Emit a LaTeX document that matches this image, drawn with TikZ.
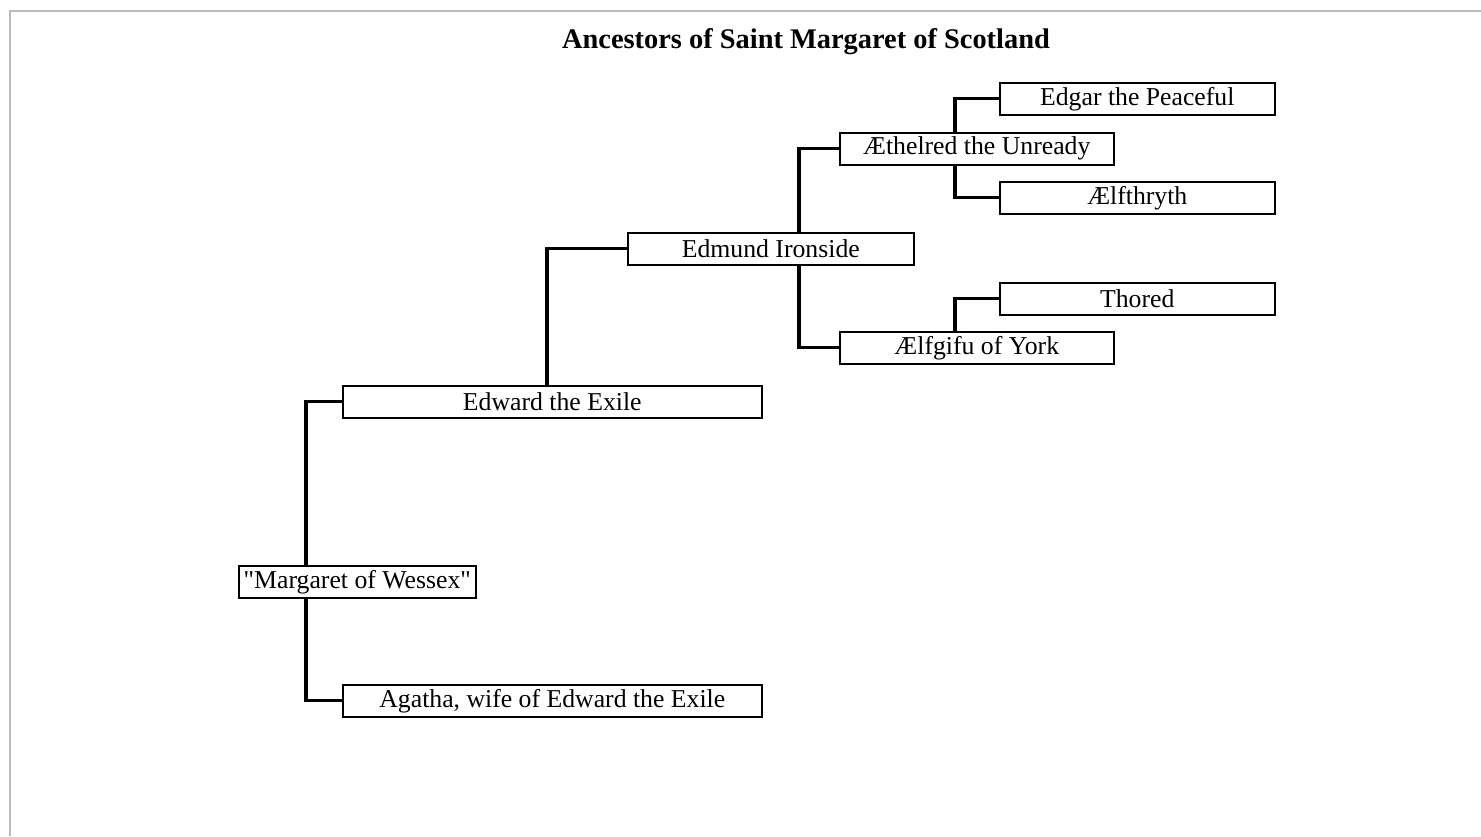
\documentclass[tikz,border=0pt]{standalone}
\usepackage{fontspec}
\setmainfont{Liberation Serif}[Ligatures=TeXOff]
\begin{document}
\begin{tikzpicture}[x=0.75pt,y=-0.75pt,
  person/.style={draw=black,line width=1.2pt,fill=white,inner sep=0pt,anchor=north west,font=\fontsize{19.3}{21}\selectfont},
  link/.style={draw=black,line width=2.3pt,line cap=rect}]
\useasboundingbox (0,0) rectangle (1481,836);
\fill[white] (0,0) rectangle (1481,836);
\draw[color=black!27,line width=1.6pt] (10,836) -- (10,11) -- (1481,11);
\node[font=\bfseries\fontsize{21.3}{23}\selectfont] (title) at (806,42) {Ancestors of Saint Margaret of Scotland};
% boxes
\node[person,minimum width=237*0.75pt,minimum height=32*0.75pt] (marg) at (238,565) {"Margaret of Wessex"};
\node[person,minimum width=419*0.75pt,minimum height=32*0.75pt] (edw) at (342,385) {Edward the Exile};
\node[person,minimum width=419*0.75pt,minimum height=32*0.75pt] (aga) at (342,684) {Agatha, wife of Edward the Exile};
\node[person,minimum width=286*0.75pt,minimum height=32*0.75pt] (edm) at (627,232) {Edmund Ironside};
\node[person,minimum width=274*0.75pt,minimum height=32*0.75pt] (aeth) at (839,132) {Æthelred the Unready};
\node[person,minimum width=274*0.75pt,minimum height=32*0.75pt] (aelg) at (839,331) {Ælfgifu of York};
\node[person,minimum width=275*0.75pt,minimum height=32*0.75pt] (edg) at (999,82) {Edgar the Peaceful};
\node[person,minimum width=275*0.75pt,minimum height=32*0.75pt] (aelt) at (999,181) {Ælfthryth};
\node[person,minimum width=275*0.75pt,minimum height=32*0.75pt] (thor) at (999,282) {Thored};
% connectors
\draw[link] (marg.north -| 306,0) |- (edw.west);
\draw[link] (marg.south -| 306,0) |- (aga.west);
\draw[link] (edw.north -| 547,0) |- (edm.west);
\draw[link] (edm.north -| 799,0) |- (aeth.west);
\draw[link] (edm.south -| 799,0) |- (aelg.west);
\draw[link] (aeth.north -| 955,0) |- (edg.west);
\draw[link] (aeth.south -| 955,0) |- (aelt.west);
\draw[link] (aelg.north -| 955,0) |- (thor.west);
\end{tikzpicture}
\end{document}
